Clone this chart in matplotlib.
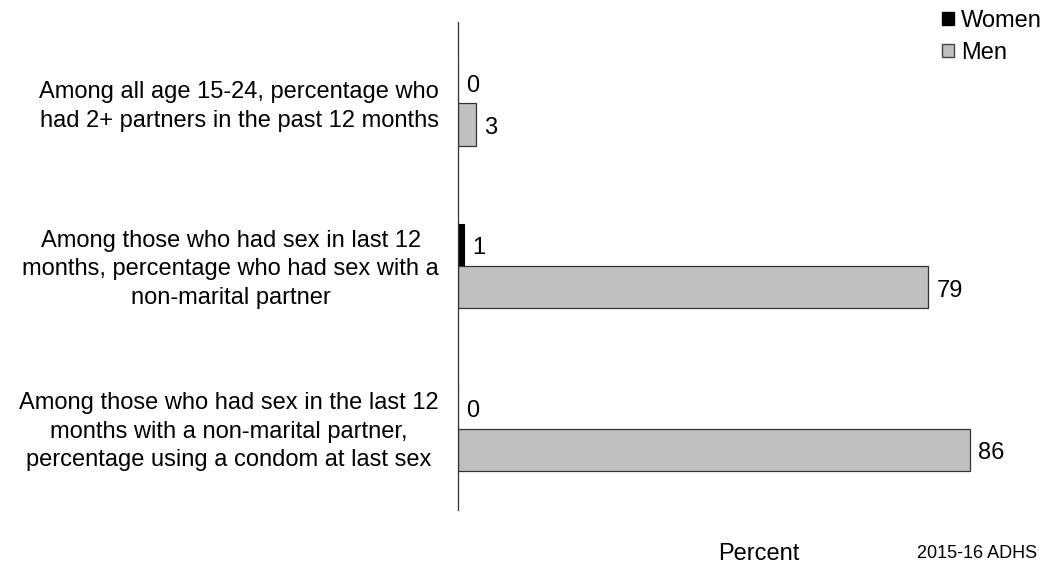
import matplotlib.pyplot as plt
import numpy as np
from matplotlib.patches import Patch
import matplotlib.transforms as mtransforms

plt.rcParams['font.family'] = ['Liberation Sans', 'DejaVu Sans']

categories = [
    "Among all age 15-24, percentage who\nhad 2+ partners in the past 12 months",
    "Among those who had sex in last 12\nmonths, percentage who had sex with a\nnon-marital partner",
    "Among those who had sex in the last 12\nmonths with a non-marital partner,\npercentage using a condom at last sex",
]
women = [0, 1, 0]
men = [3, 79, 86]

fig = plt.figure(figsize=(10.45, 5.67), dpi=100)
# axis spans 0-100 percent; right end falls just past the figure edge
ax = fig.add_axes([458 / 1045, 1 - 510 / 567, 595 / 1045, 488 / 567])

y = np.arange(len(categories))
h = 0.26
ax.barh(y - h / 2, women, height=h, color='black', edgecolor='black', linewidth=0.8)
ax.barh(y + h / 2, men, height=h, color='#c0c0c0', edgecolor='#333333', linewidth=0.9)

for yi, w, m in zip(y, women, men):
    ax.annotate(str(w), (w, yi - h / 2), xytext=(6, -2.5), textcoords='offset points',
                va='center', ha='left', fontsize=17)
    ax.annotate(str(m), (m, yi + h / 2), xytext=(6, -2.5), textcoords='offset points',
                va='center', ha='left', fontsize=17)

# category labels: block right-aligned near the axis, lines centred in the block
trans = mtransforms.blended_transform_factory(fig.transFigure, ax.transData)
for yi, lab in zip(y, categories):
    ax.text(439 / 1045, yi + 0.02, lab, transform=trans, ha='right', va='center',
            multialignment='center', fontsize=17, linespacing=1.38)

ax.set_xlim(0, 100)
ax.set_ylim(2.5, -0.5)
ax.set_yticks([])
ax.set_xticks([])
for s in ['top', 'right', 'bottom']:
    ax.spines[s].set_visible(False)
ax.spines['left'].set_color('#333333')
ax.spines['left'].set_linewidth(0.9)

handles = [Patch(facecolor='black', edgecolor='black'),
           Patch(facecolor='#c0c0c0', edgecolor='#444444')]
fig.legend(handles, ['Women', 'Men'], loc='upper left',
           bbox_to_anchor=(942 / 1045, 1 - 10 / 567), frameon=False, fontsize=17,
           handlelength=0.5, handleheight=0.5, handletextpad=0.3,
           labelspacing=0.42, borderpad=0, borderaxespad=0)

fig.text(759 / 1045, 1 - 554 / 567, 'Percent', ha='center', va='center', fontsize=17)
fig.text(1037 / 1045, 1 - 553 / 567, '2015-16 ADHS', ha='right', va='center', fontsize=13)

fig.savefig('out.png', dpi=100)
